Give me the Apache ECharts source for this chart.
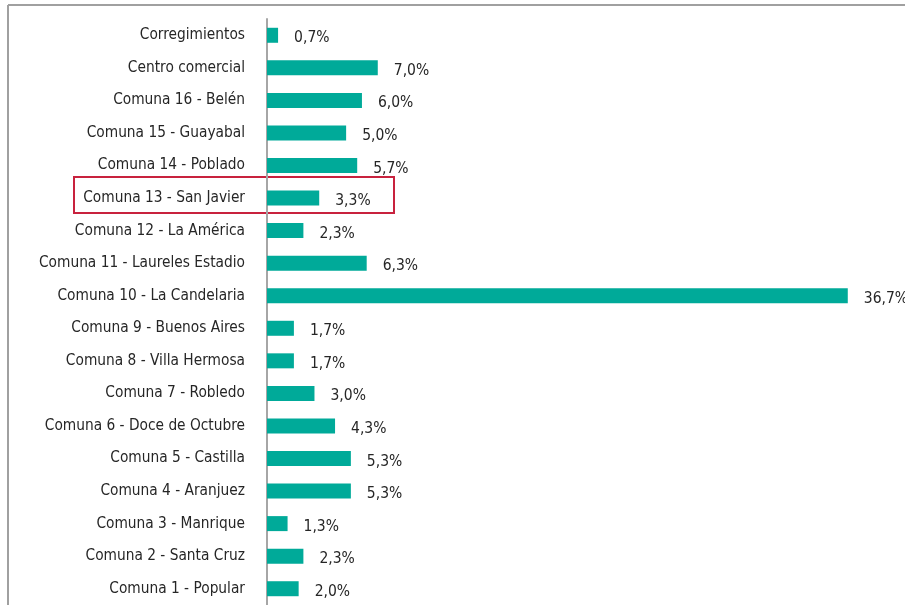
<!DOCTYPE html>
<html>
<head>
<meta charset="utf-8">
<script src="https://cdn.jsdelivr.net/npm/echarts@6/dist/echarts.min.js"></script>
<style>
  html, body { margin: 0; padding: 0; background: #fff; }
  #chart { width: 905px; height: 605px; }
</style>
</head>
<body>
<div id="chart"></div>
<script>
// Share of cases by comuna (percent), listed top to bottom
const categories = [
  'Corregimientos',
  'Centro comercial',
  'Comuna 16 - Belén',
  'Comuna 15 - Guayabal',
  'Comuna 14 - Poblado',
  'Comuna 13 - San Javier',
  'Comuna 12 - La América',
  'Comuna 11 - Laureles Estadio',
  'Comuna 10 - La Candelaria',
  'Comuna 9 - Buenos Aires',
  'Comuna 8 - Villa Hermosa',
  'Comuna 7 - Robledo',
  'Comuna 6 - Doce de Octubre',
  'Comuna 5 - Castilla',
  'Comuna 4 - Aranjuez',
  'Comuna 3 - Manrique',
  'Comuna 2 - Santa Cruz',
  'Comuna 1 - Popular'
];
const shares = [0.7, 7.0, 6.0, 5.0, 5.7, 3.3, 2.3, 6.3, 36.7, 1.7, 1.7, 3.0, 4.3, 5.3, 5.3, 1.3, 2.3, 2.0];
const highlighted = 'Comuna 13 - San Javier';

const FONT = '"Liberation Sans Narrow", "DejaVu Sans Condensed", sans-serif';
const chart = echarts.init(document.getElementById('chart'), null, { renderer: 'canvas' });

chart.setOption({
  animation: false,
  backgroundColor: '#ffffff',
  grid: { left: 267, top: 19, width: 633, height: 587, containLabel: false },
  xAxis: {
    type: 'value', min: 0, max: 40, show: false
  },
  yAxis: {
    type: 'category',
    data: categories,
    inverse: true,
    axisLine: { show: true, lineStyle: { color: '#a6a6a6', width: 2 } },
    axisTick: { show: false },
    axisLabel: { color: '#262626', fontFamily: FONT, fontSize: 15.3, margin: 22 }
  },
  series: [{
    type: 'bar',
    data: shares,
    barWidth: 15,
    itemStyle: { color: '#00aa99' },
    label: {
      show: true,
      position: 'right',
      distance: 16,
      offset: [0, 3],
      color: '#262626',
      fontFamily: FONT,
      fontSize: 15.5,
      formatter: p => p.value.toFixed(1).replace('.', ',') + '%'
    }
  }]
});

// Frame lines and the highlight box around one category row
const rowY = chart.convertToPixel({ yAxisIndex: 0 }, highlighted);
chart.setOption({
  graphic: [
    { type: 'line', shape: { x1: 8, y1: 5, x2: 905, y2: 5 }, style: { stroke: '#a0a0a0', lineWidth: 2 } },
    { type: 'line', shape: { x1: 8, y1: 5, x2: 8, y2: 605 }, style: { stroke: '#a0a0a0', lineWidth: 2 } },
    { type: 'rect', shape: { x: 74, y: rowY - 21, width: 320, height: 36 },
      style: { fill: 'none', stroke: '#c8223e', lineWidth: 2 } }
  ]
});
</script>
</body>
</html>
